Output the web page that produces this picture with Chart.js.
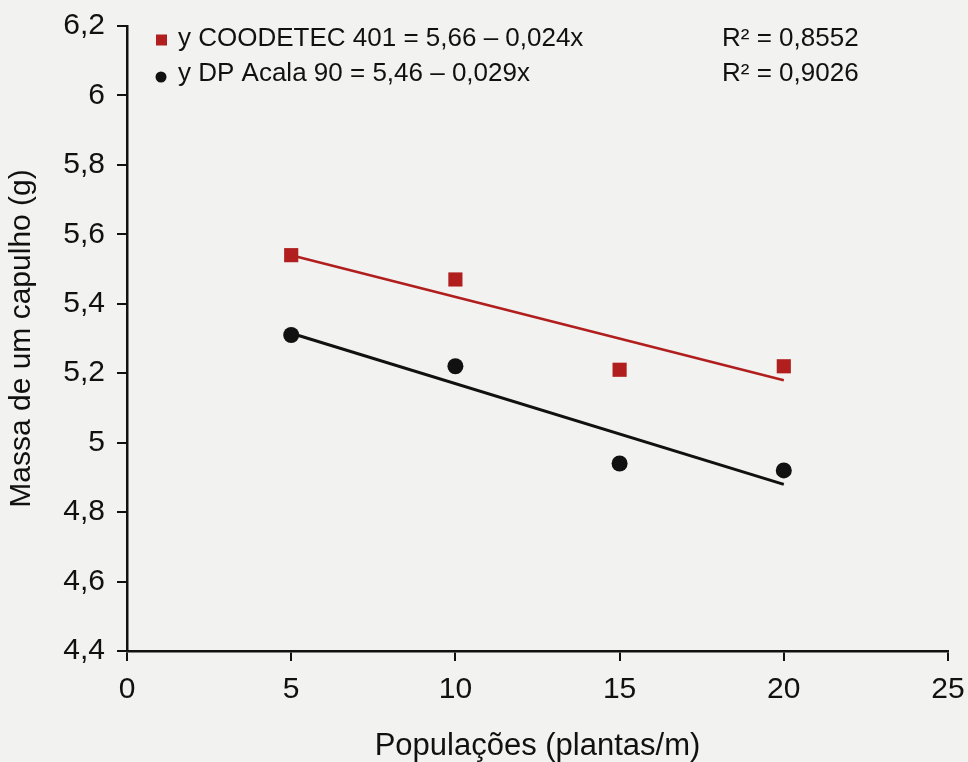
<!DOCTYPE html>
<html><head><meta charset="utf-8">
<script src="https://cdn.jsdelivr.net/npm/chart.js@4/dist/chart.umd.min.js"></script>
<style>html,body{margin:0;padding:0;background:#f2f2f0;}#wrap{width:968px;height:762px;}</style>
</head><body><div id="wrap"><canvas id="c" width="968" height="762"></canvas></div>
<script>
const populations = [5, 10, 15, 20];
const coodetec = [5.54, 5.47, 5.21, 5.22];
const dpAcala = [5.31, 5.22, 4.94, 4.92];
const trendX = [5, 20];
const coodetecTrend = [5.54, 5.18];
const dpAcalaTrend = [5.315, 4.88];
const legendLabels = ['y COODETEC 401 = 5,66 – 0,024x', 'y DP Acala 90 = 5,46 – 0,029x'];
const r2Labels = ['R² = 0,8552', 'R² = 0,9026'];
const xTicks = [0, 5, 10, 15, 20, 25];
const yTicks = [4.4, 4.6, 4.8, 5, 5.2, 5.4, 5.6, 5.8, 6, 6.2];

const FONT = '"Liberation Sans", Arial, sans-serif';
const red = '#b01e1e';
const ink = '#111';

const legendPlugin = {
  id: 'eqLegend',
  afterDraw(chart) {
    const ctx = chart.ctx;
    ctx.save();
    ctx.font = '26px ' + FONT;
    ctx.textBaseline = 'middle';
    const textRows = [39, 74];
    const markRows = [40, 77];
    ctx.fillStyle = red;
    ctx.fillRect(156, markRows[0] - 5.5, 11, 11);
    ctx.fillStyle = ink;
    ctx.beginPath(); ctx.arc(161, markRows[1], 5.5, 0, Math.PI * 2); ctx.fill();
    ctx.textAlign = 'left';
    legendLabels.forEach((t, i) => ctx.fillText(t, 178, textRows[i]));
    r2Labels.forEach((t, i) => ctx.fillText(t, 722, textRows[i]));
    ctx.restore();
  }
};

new Chart(document.getElementById('c'), {
  type: 'scatter',
  data: {
    datasets: [
      { label: 'COODETEC 401', data: populations.map((x, i) => ({x, y: coodetec[i]})),
        pointStyle: 'rect', pointRadius: 10, backgroundColor: red, borderColor: red, borderWidth: 0 },
      { label: 'DP Acala 90', data: populations.map((x, i) => ({x, y: dpAcala[i]})),
        pointStyle: 'circle', pointRadius: 8, backgroundColor: ink, borderColor: ink, borderWidth: 0 },
      { label: 'trend1', type: 'line', data: trendX.map((x, i) => ({x, y: coodetecTrend[i]})),
        borderColor: red, borderWidth: 2.5, pointRadius: 0, fill: false, order: 5 },
      { label: 'trend2', type: 'line', data: trendX.map((x, i) => ({x, y: dpAcalaTrend[i]})),
        borderColor: ink, borderWidth: 3, pointRadius: 0, fill: false, order: 5 }
    ]
  },
  options: {
    responsive: false, animation: false,
    layout: { padding: { top: 26, right: 20, left: 0, bottom: 0 } },
    plugins: { legend: { display: false }, tooltip: { enabled: false } },
    scales: {
      x: {
        type: 'linear', min: 0, max: 25,
        afterBuildTicks: s => { s.ticks = xTicks.map(v => ({value: v})); },
        afterFit: s => { s.height = 111; s.paddingLeft = 0; s.paddingRight = 0; },
        grid: { drawOnChartArea: false, tickLength: 10, color: ink, lineWidth: 2 },
        border: { color: ink, width: 2.5 },
        ticks: { color: ink, font: { size: 30, family: FONT }, padding: 11 },
        title: { display: true, text: 'Populações (plantas/m)', color: ink, font: { size: 31, family: FONT }, padding: { top: 4, bottom: -3 } }
      },
      y: {
        type: 'linear', min: 4.4, max: 6.2,
        afterBuildTicks: s => { s.ticks = yTicks.map(v => ({value: v})); },
        afterFit: s => { s.width = 127; s.paddingTop = 0; s.paddingBottom = 0; },
        grid: { drawOnChartArea: false, tickLength: 10, color: ink, lineWidth: 2 },
        border: { color: ink, width: 2.5 },
        ticks: { color: ink, font: { size: 30, family: FONT }, padding: 12,
          callback: v => String(Math.round(v * 10) / 10).replace('.', ',') },
        title: { display: true, text: 'Massa de um capulho (g)', color: ink, font: { size: 30, family: FONT }, padding: { top: 4, bottom: 4 } }
      }
    }
  },
  plugins: [legendPlugin]
});
</script>
</body></html>
